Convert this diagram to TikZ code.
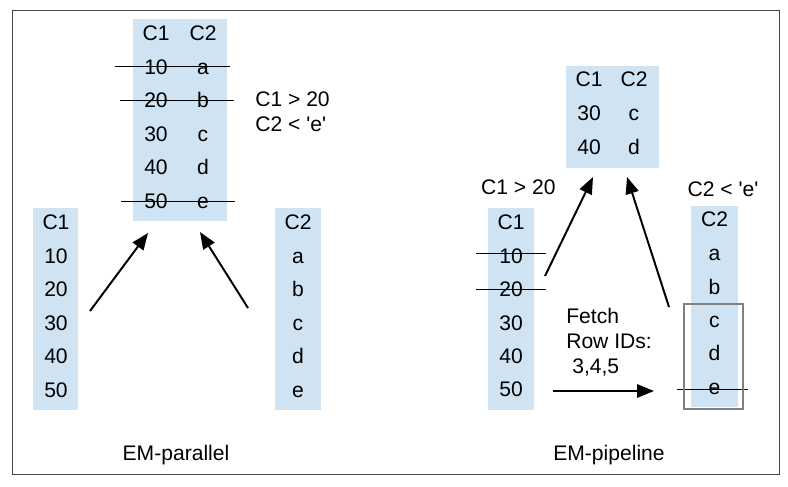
\documentclass[tikz,border=0pt]{standalone}
\usepackage{fontspec}
\setmainfont{Liberation Sans}
\usetikzlibrary{arrows.meta,positioning}
\definecolor{colbg}{RGB}{207,227,242}
\definecolor{frm}{RGB}{70,70,70}
\newcommand{\sq}{\textquotesingle}

\begin{document}
\begin{tikzpicture}[
    tbl/.style={rectangle, fill=colbg, inner sep=0pt},
    cell/.style={inner sep=0pt, text height=10.7pt, text depth=0pt, font=\fontsize{15}{18}\selectfont},
    lbl/.style={inner sep=0pt, align=left, font=\fontsize{15}{17.8}\selectfont},
    strike/.style={draw=black, line width=0.7pt},
    arr/.style={-{Triangle[length=4.2mm, width=3.3mm]}, line width=1.4pt},
    rowbox/.style={rectangle, draw=gray, line width=0.8pt, inner sep=0pt}
]
    \useasboundingbox (0,0) rectangle (19.7,12.15);
    % Outer frame
    \draw[frm, line width=0.7pt] (0.3,0.3) rectangle (19.475,11.9);

    %%% EM-parallel
    % Combined table
    \node[tbl, minimum width=2.35cm, minimum height=5.05cm] (mid) at (4.5, 9.15) {};
    \node[cell] (mh1) at (3.9, 11.325) {C1};
    \node[cell] (mh2) at (5.075, 11.325) {C2};
    \node[cell] (m1a) at (3.9, 10.485) {10};
    \node[cell] (m2a) at (5.075, 10.485) {a};
    \node[cell] (m1b) at (3.9, 9.645) {20};
    \node[cell] (m2b) at (5.075, 9.645) {b};
    \node[cell] (m1c) at (3.9, 8.805) {30};
    \node[cell] (m2c) at (5.075, 8.805) {c};
    \node[cell] (m1d) at (3.9, 7.965) {40};
    \node[cell] (m2d) at (5.075, 7.965) {d};
    \node[cell] (m1e) at (3.9, 7.125) {50};
    \node[cell] (m2e) at (5.075, 7.125) {e};
    \draw[strike] ([xshift=-1.025cm]m1a.center) -- ([xshift=0.675cm]m2a.center);
    \draw[strike] ([xshift=-0.9cm]m1b.center) -- ([xshift=0.775cm]m2b.center);
    \draw[strike] ([xshift=-0.875cm]m1e.center) -- ([xshift=0.8cm]m2e.center);
    \node[lbl, anchor=west] (cond) at (6.375, 9.36) {C1 > 20\\C2 < \sq e\sq};

    % Left column C1
    \node[tbl, minimum width=1.125cm, minimum height=5.05cm] (lc1) at (1.3875, 4.425) {};
    \node[cell] (l0) at (1.4, 6.6) {C1};
    \node[cell] (l1) at (1.4, 5.76) {10};
    \node[cell] (l2) at (1.4, 4.92) {20};
    \node[cell] (l3) at (1.4, 4.08) {30};
    \node[cell] (l4) at (1.4, 3.24) {40};
    \node[cell] (l5) at (1.4, 2.40) {50};

    % Right column C2
    \node[tbl, minimum width=1.15cm, minimum height=5.05cm] (lc2) at (7.45, 4.425) {};
    \node[cell] (r0) at (7.45, 6.6) {C2};
    \node[cell] (r1) at (7.45, 5.76) {a};
    \node[cell] (r2) at (7.45, 4.92) {b};
    \node[cell] (r3) at (7.45, 4.08) {c};
    \node[cell] (r4) at (7.45, 3.24) {d};
    \node[cell] (r5) at (7.45, 2.40) {e};

    % Arrows into the combined table
    \coordinate (pa) at (2.25, 4.375);
    \coordinate (pb) at (3.7, 6.325);
    \coordinate (pc) at (6.2, 4.45);
    \coordinate (pd) at (5.0, 6.35);
    \draw[arr] (pa) -- (pb);
    \draw[arr] (pc) -- (pd);

    \node[cell] (par) at (4.4, 0.825) {EM-parallel};

    %%% EM-pipeline
    % Result table
    \node[tbl, minimum width=2.325cm, minimum height=2.55cm] (res) at (15.3125, 9.225) {};
    \node[cell] (rh1) at (14.725, 10.175) {C1};
    \node[cell] (rh2) at (15.85, 10.175) {C2};
    \node[cell] (r1c) at (14.725, 9.325) {30};
    \node[cell] (r2c) at (15.85, 9.325) {c};
    \node[cell] (r1d) at (14.725, 8.475) {40};
    \node[cell] (r2d) at (15.85, 8.475) {d};

    \node[cell] (q1) at (12.96, 7.475) {C1 > 20};
    \node[cell] (q2) at (18.075, 7.425) {C2 < \sq e\sq};

    % Column C1
    \node[tbl, minimum width=1.15cm, minimum height=5.05cm] (pc1) at (12.775, 4.425) {};
    \node[cell] (s0) at (12.775, 6.6) {C1};
    \node[cell] (s1) at (12.775, 5.76) {10};
    \node[cell] (s2) at (12.775, 4.92) {20};
    \node[cell] (s3) at (12.775, 4.08) {30};
    \node[cell] (s4) at (12.775, 3.24) {40};
    \node[cell] (s5) at (12.775, 2.425) {50};
    \draw[strike] ([xshift=-0.875cm, yshift=0.05cm]s1.center) -- ([xshift=0.875cm, yshift=0.05cm]s1.center);
    \draw[strike] ([xshift=-0.875cm]s2.center) -- ([xshift=0.875cm]s2.center);

    % Column C2
    \node[tbl, minimum width=1.175cm, minimum height=5.025cm] (pc2) at (17.8625, 4.4875) {};
    \node[cell] (u0) at (17.8625, 6.675) {C2};
    \node[cell] (u1) at (17.8625, 5.825) {a};
    \node[cell] (u2) at (17.8625, 4.975) {b};
    \node[cell] (u3) at (17.8625, 4.15) {c};
    \node[cell] (u4) at (17.8625, 3.325) {d};
    \node[cell] (u5) at (17.8625, 2.475) {e};
    \draw[strike] ([xshift=-0.9375cm, yshift=-0.05cm]u5.center) -- ([xshift=0.8375cm, yshift=-0.05cm]u5.center);
    \node[rowbox, minimum width=1.475cm, minimum height=2.625cm] (hit) at (17.8375, 3.2375) {};

    \node[lbl, anchor=north west] (fetch) at (14.15, 4.445) {Fetch\\Row IDs:\\\hspace{0.15cm}3,4,5};

    % Arrows
    \coordinate (qa) at (13.625, 5.25);
    \coordinate (qb) at (14.825, 7.725);
    \coordinate (qc) at (16.725, 4.475);
    \coordinate (qd) at (15.675, 7.725);
    \coordinate (qe) at (13.825, 2.375);
    \coordinate (qf) at (16.35, 2.375);
    \draw[arr] (qa) -- (qb);
    \draw[arr] (qc) -- (qd);
    \draw[arr] (qe) -- (qf);

    \node[cell] (pip) at (15.225, 0.825) {EM-pipeline};
\end{tikzpicture}
\end{document}
